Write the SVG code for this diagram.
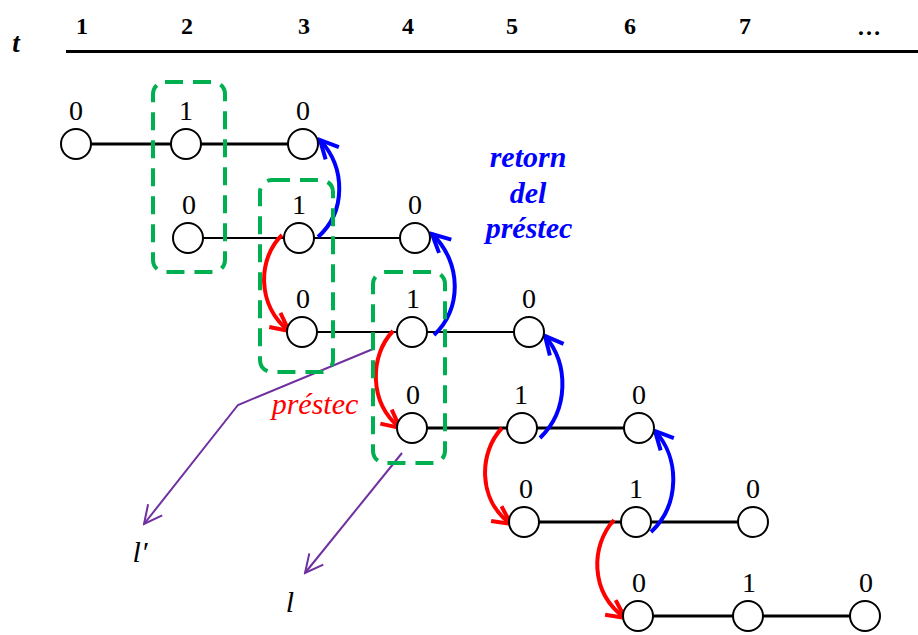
<svg xmlns="http://www.w3.org/2000/svg" width="918" height="635" viewBox="0 0 918 635">
<defs>
<style>
.nd{fill:#fff;stroke:#000;stroke-width:2}
.thick{stroke:#000;stroke-width:3;fill:none}
.thin{stroke:#000;stroke-width:1.8;fill:none}
.box{fill:none;stroke:#00b050;stroke-width:4;stroke-dasharray:18 10}
.red{fill:none;stroke:#ff0000;stroke-width:4;marker-end:url(#ar)}
.blue{fill:none;stroke:#0000ff;stroke-width:4;marker-end:url(#ab)}
.pur{fill:none;stroke:#7030a0;stroke-width:2;marker-end:url(#ap)}
</style>
<marker id="ar" viewBox="0 0 24 24" refX="21" refY="12" markerWidth="24" markerHeight="24" orient="auto" markerUnits="userSpaceOnUse"><path d="M3,3 L21,12 L3,21" fill="none" stroke="#ff0000" stroke-width="4" stroke-linecap="butt"/></marker>
<marker id="ab" viewBox="0 0 24 24" refX="21" refY="12" markerWidth="24" markerHeight="24" orient="auto" markerUnits="userSpaceOnUse"><path d="M3,3 L21,12 L3,21" fill="none" stroke="#0000ff" stroke-width="4" stroke-linecap="butt"/></marker>
<marker id="ap" viewBox="0 0 24 24" refX="22" refY="12" markerWidth="24" markerHeight="24" orient="auto" markerUnits="userSpaceOnUse"><path d="M4,3 L22,12 L4,21" fill="none" stroke="#7030a0" stroke-width="2"/></marker>
</defs>
<rect width="918" height="635" fill="#fff"/>

<g id="header" font-family="Liberation Serif, serif" font-weight="bold" font-size="24" text-anchor="middle" fill="#000">
<text x="16" y="52" font-style="italic" font-size="27">t</text>
<text x="82" y="34">1</text>
<text x="187" y="34">2</text>
<text x="304" y="34">3</text>
<text x="408" y="34">4</text>
<text x="512" y="34">5</text>
<text x="630" y="34">6</text>
<text x="745" y="34">7</text>
<text x="869" y="35">…</text>
<line x1="66" y1="51.5" x2="918" y2="51.5" stroke="#000" stroke-width="3"/>
</g>

<g id="rows">
<line class="thick" x1="90" y1="144" x2="290" y2="144"/>
<line class="thin" x1="203" y1="238" x2="400" y2="238"/>
<line class="thin" x1="317" y1="332" x2="514" y2="332"/>
<line class="thick" x1="427" y1="428" x2="624" y2="428"/>
<line class="thick" x1="539" y1="522" x2="738" y2="522"/>
<line class="thick" x1="653" y1="616" x2="850" y2="616"/>
</g>

<g id="connectors">
<path class="blue" d="M318,237 C346,212 346,168 320,140"/>
<path class="blue" d="M434,335 C462,310 462,262 432,234"/>
<path class="blue" d="M540,438 C569,410 569,364 545,336"/>
<path class="blue" d="M651,532 C680,505 680,458 655,431"/>
<path class="red" d="M282,235 C258,258 256,305 289,331"/>
<path class="red" d="M393,331 C370,355 368,402 400,428"/>
<path class="red" d="M502,428 C479,452 477,500 511,524"/>
<path class="red" d="M614,520 C591,545 589,592 625,618"/>
<path class="pur" d="M373,349 L238,405 L144,524"/>
<path class="pur" d="M402,453 L305,573"/>
</g>

<g id="nodes" font-family="Liberation Serif, serif" font-size="28" text-anchor="middle" fill="#000">
<g id="n00"><circle class="nd" cx="76" cy="144" r="15"/><text x="76" y="120">0</text></g>
<g id="n01"><circle class="nd" cx="186" cy="144" r="15"/><text x="186" y="120">1</text></g>
<g id="n02"><circle class="nd" cx="303" cy="144" r="15"/><text x="303" y="120">0</text></g>
<g id="n10"><circle class="nd" cx="188" cy="238" r="15"/><text x="189" y="214">0</text></g>
<g id="n11"><circle class="nd" cx="299" cy="238" r="15"/><text x="299" y="214">1</text></g>
<g id="n12"><circle class="nd" cx="415" cy="238" r="15"/><text x="415" y="214">0</text></g>
<g id="n20"><circle class="nd" cx="302" cy="332" r="15"/><text x="303" y="308">0</text></g>
<g id="n21"><circle class="nd" cx="412" cy="332" r="15"/><text x="413" y="308">1</text></g>
<g id="n22"><circle class="nd" cx="529" cy="332" r="15"/><text x="529" y="308">0</text></g>
<g id="n30"><circle class="nd" cx="412" cy="428" r="15"/><text x="413" y="404">0</text></g>
<g id="n31"><circle class="nd" cx="522" cy="428" r="15"/><text x="521" y="404">1</text></g>
<g id="n32"><circle class="nd" cx="639" cy="428" r="15"/><text x="639" y="404">0</text></g>
<g id="n40"><circle class="nd" cx="524" cy="522" r="15"/><text x="526" y="498">0</text></g>
<g id="n41"><circle class="nd" cx="636" cy="522" r="15"/><text x="636" y="498">1</text></g>
<g id="n42"><circle class="nd" cx="753" cy="522" r="15"/><text x="753" y="498">0</text></g>
<g id="n50"><circle class="nd" cx="638" cy="616" r="15"/><text x="639" y="592">0</text></g>
<g id="n51"><circle class="nd" cx="748" cy="616" r="15"/><text x="749" y="592">1</text></g>
<g id="n52"><circle class="nd" cx="865" cy="616" r="15"/><text x="866" y="592">0</text></g>
</g>

<g id="boxes">
<rect class="box" x="153" y="82" width="72" height="190" rx="12"/>
<rect class="box" x="260" y="180" width="73" height="192" rx="12"/>
<rect class="box" x="373" y="272" width="72" height="191" rx="12"/>
</g>

<g id="labels" font-family="Liberation Serif, serif" font-style="italic" font-size="30" text-anchor="middle">
<text x="315" y="414" fill="#ff0000">préstec</text>
<text x="528" y="167" fill="#0000ff" font-weight="bold">retorn</text>
<text x="528" y="203" fill="#0000ff" font-weight="bold">del</text>
<text x="529" y="238" fill="#0000ff" font-weight="bold">préstec</text>
<text x="140" y="562" fill="#000">l′</text>
<text x="290" y="612" fill="#000">l</text>
</g>
</svg>
